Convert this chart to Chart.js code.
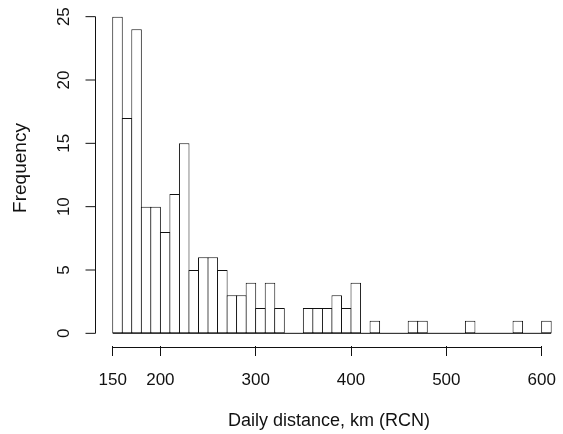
<!DOCTYPE html>
<html>
<head>
<meta charset="utf-8">
<script src="https://cdn.jsdelivr.net/npm/chart.js@4/dist/chart.umd.min.js"></script>
<style>
  html, body { margin: 0; padding: 0; background: #fff; }
  #wrap { width: 563px; height: 434px; }
</style>
</head>
<body>
<div id="wrap"><canvas id="histChart" width="563" height="434"></canvas></div>
<script>
// histogram bins (lower edge, width 10 km) and counts
const aBinStart = [150,160,170,180,190,200,210,220,230,240,250,260,270,280,290,300,310,320,330,340,350,360,370,380,390,400,410,420,430,440,450,460,470,480,490,500,510,520,530,540,550,560,570,580,590,600];
const aCounts   = [25,17,24,10,10,8,11,15,5,6,6,5,3,3,4,2,4,2,0,0,2,2,2,3,2,4,0,1,0,0,0,1,1,0,0,0,0,1,0,0,0,0,1,0,0,1];
const nBinWidth = 10;
const aXTicks = [150,200,300,400,500,600];
const aYTicks = [0,5,10,15,20,25];
const sYTitle = "Frequency";
const sXTitle = "Daily distance, km (RCN)";

const sInk = "#111";
const sFont = "'Liberation Sans', Arial, Helvetica, sans-serif";

// R style axes: detached axis lines, rotated y labels, baseline under empty bins
const rAxes = {
    id: "rAxes",
    afterDatasetsDraw(chart) {
        const ctx = chart.ctx;
        const x = chart.scales.x;
        const y = chart.scales.y;
        const area = chart.chartArea;
        ctx.save();
        ctx.strokeStyle = sInk;
        ctx.lineWidth = 1;

        // baseline across all bins
        const y0 = y.getPixelForValue(0);
        ctx.beginPath();
        ctx.moveTo(x.getPixelForValue(aBinStart[0]), y0);
        ctx.lineTo(x.getPixelForValue(aBinStart[aBinStart.length - 1] + nBinWidth), y0);
        ctx.stroke();

        // x axis line
        const xl = area.bottom + 1.5;
        ctx.beginPath();
        ctx.moveTo(x.getPixelForValue(aXTicks[0]), xl);
        ctx.lineTo(x.getPixelForValue(aXTicks[aXTicks.length - 1]), xl);
        ctx.stroke();

        // y axis line, ticks and labels
        const yl = area.left + 0.5;
        ctx.beginPath();
        ctx.moveTo(yl, y.getPixelForValue(aYTicks[0]));
        ctx.lineTo(yl, y.getPixelForValue(aYTicks[aYTicks.length - 1]));
        aYTicks.forEach(v => {
            const py = y.getPixelForValue(v);
            ctx.moveTo(yl, py);
            ctx.lineTo(yl - 10, py);
        });
        ctx.stroke();

        ctx.fillStyle = sInk;
        ctx.font = "17px " + sFont;
        ctx.textAlign = "center";
        ctx.textBaseline = "middle";
        aYTicks.forEach(v => {
            const py = y.getPixelForValue(v);
            ctx.save();
            ctx.translate(64, py);
            ctx.rotate(-Math.PI / 2);
            ctx.fillText(String(v), 0, 0);
            ctx.restore();
        });

        // y title
        ctx.font = "19px " + sFont;
        ctx.save();
        ctx.translate(21, 168);
        ctx.rotate(-Math.PI / 2);
        ctx.fillText(sYTitle, 0, 0);
        ctx.restore();
        ctx.restore();
    }
};

const data = {
    datasets: [{
        label: sYTitle,
        data: aBinStart.map((b, i) => ({ x: b + nBinWidth / 2, y: aCounts[i] })),
        backgroundColor: "#fff",
        borderColor: sInk,
        borderWidth: 1,
        borderSkipped: false,
        barPercentage: 1.105,
        categoryPercentage: 1
    }]
};

const config = {
    type: "bar",
    data: data,
    plugins: [rAxes],
    options: {
        responsive: false,
        animation: false,
        layout: { padding: { top: 4, left: 0, right: 0, bottom: 0 } },
        plugins: {
            legend: { display: false },
            tooltip: { enabled: false }
        },
        scales: {
            x: {
                type: "linear",
                min: 131.4,
                max: 622.4,
                offset: false,
                afterBuildTicks: (scale) => {
                    scale.ticks = aXTicks.map(v => ({ value: v }));
                },
                afterFit: (scale) => {
                    scale.height = 88;
                    scale.paddingLeft = 0;
                    scale.paddingRight = 0;
                },
                grid: {
                    drawOnChartArea: false,
                    drawTicks: true,
                    tickLength: 10,
                    color: sInk,
                    offset: false
                },
                border: { display: false },
                ticks: {
                    color: sInk,
                    font: { family: sFont, size: 17 },
                    padding: 14,
                    maxRotation: 0,
                    autoSkip: false
                },
                title: {
                    display: true,
                    text: sXTitle,
                    color: sInk,
                    font: { family: sFont, size: 18 },
                    padding: { top: 0, bottom: 2 }
                }
            },
            y: {
                min: -1,
                max: 26,
                afterFit: (scale) => {
                    scale.width = 95;
                    scale.paddingTop = 0;
                    scale.paddingBottom = 0;
                },
                grid: { display: false },
                border: { display: false },
                ticks: { display: false },
                title: { display: false }
            }
        }
    }
};

new Chart(document.getElementById("histChart").getContext("2d"), config);
</script>
</body>
</html>
